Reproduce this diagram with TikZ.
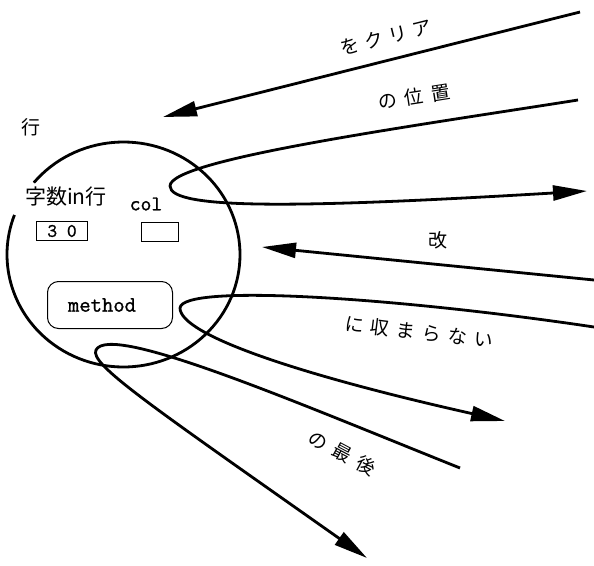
\documentclass[tikz,border=0pt]{standalone}
\usepackage{fontspec}
\newfontfamily\jpfont{Noto Sans CJK JP}
\newfontfamily\ttheavy{Latin Modern Mono}[FakeBold=1.2]
\usetikzlibrary{arrows.meta}
\begin{document}
\begin{tikzpicture}[x=1pt,y=-1pt,
  thick line/.style={line width=2.8pt},
  tip/.style={-{Triangle[length=34pt,width=15pt]}},
  jp/.style={font=\jpfont\fontsize{19}{22}\selectfont, inner sep=0pt},
  tt/.style={font=\ttheavy\fontsize{21}{24}\selectfont, inner sep=0pt},
  valbox/.style={draw, line width=1pt, inner sep=0pt, minimum height=19pt},
  methbox/.style={draw, line width=1pt, rounded corners=11pt, inner sep=0pt,
                  minimum width=125pt, minimum height=47pt, font=\ttheavy\fontsize{22}{24}\selectfont}]
\useasboundingbox (0,0) rectangle (594,565);
% object circle (with a gap at upper left)
\coordinate (cc) at (123.5,254.5);
\draw[thick line] ([shift={(140.3:116.5pt and 112.5pt)}]cc)
  arc[start angle=140.3, end angle=-200.6, x radius=116.5pt, y radius=112.5pt];
% texts inside the object
\node[jp] (gyo) at (31,127) {行};
\node[jp, font=\jpfont\fontsize{21}{24}\selectfont] (jisu) at (66,197) {字数in行};
\node[tt] (col) at (146,204) {col};
\node[valbox, minimum width=51pt, font=\ttheavy\fontsize{19}{20}\selectfont] (v30) at (62,231) {3 0};
\node[valbox, minimum width=37pt] (vcol) at (160,232) {};
\node[methbox] (meth) at (110,305) {method\kern16pt\relax};
% arrows
\coordinate (a1s) at (580,12);
\coordinate (a1e) at (163,117);
\draw[thick line, tip] (a1s) -- (a1e);
\node[jp, rotate=14] (l1) at (386,37) {を\hspace{6pt}ク\hspace{6pt}リ\hspace{6pt}ア};

\coordinate (a2s) at (578,100);
\coordinate (a2t) at (170,186);
\coordinate (a2e) at (587,191);
\draw[thick line, tip] (a2s) .. controls (400,128) and (170,160) .. (a2t)
  .. controls (170,210) and (300,208) .. (a2e);
\node[jp, rotate=9] (l2) at (414,97) {の\hspace{8pt}位\hspace{8pt}置};

\coordinate (a3s) at (594,280);
\coordinate (a3e) at (262,247);
\draw[thick line, tip] (a3s) -- (a3e);
\node[jp] (l3) at (438,240) {改};

\coordinate (a4s) at (594,327);
\coordinate (a4t) at (180,308);
\coordinate (a4e) at (505,421);
\draw[thick line, tip] (a4s) .. controls (400,298) and (182,283) .. (a4t)
  .. controls (180,335) and (300,375) .. (a4e);
\node[jp, rotate=-7] (l4) at (419,332) {に\hspace{7pt}収\hspace{7pt}ま\hspace{7pt}ら\hspace{7pt}な\hspace{7pt}い};

\coordinate (a5s) at (460,468);
\coordinate (a5t) at (96,350);
\coordinate (a5e) at (367,558);
\draw[thick line, tip] (a5s) .. controls (300,404) and (110,322) .. (a5t)
  .. controls (89,364) and (150,405) .. (a5e);
\node[jp, rotate=-28] (l5) at (342,453) {の\hspace{8pt}最\hspace{8pt}後};
\end{tikzpicture}
\end{document}
